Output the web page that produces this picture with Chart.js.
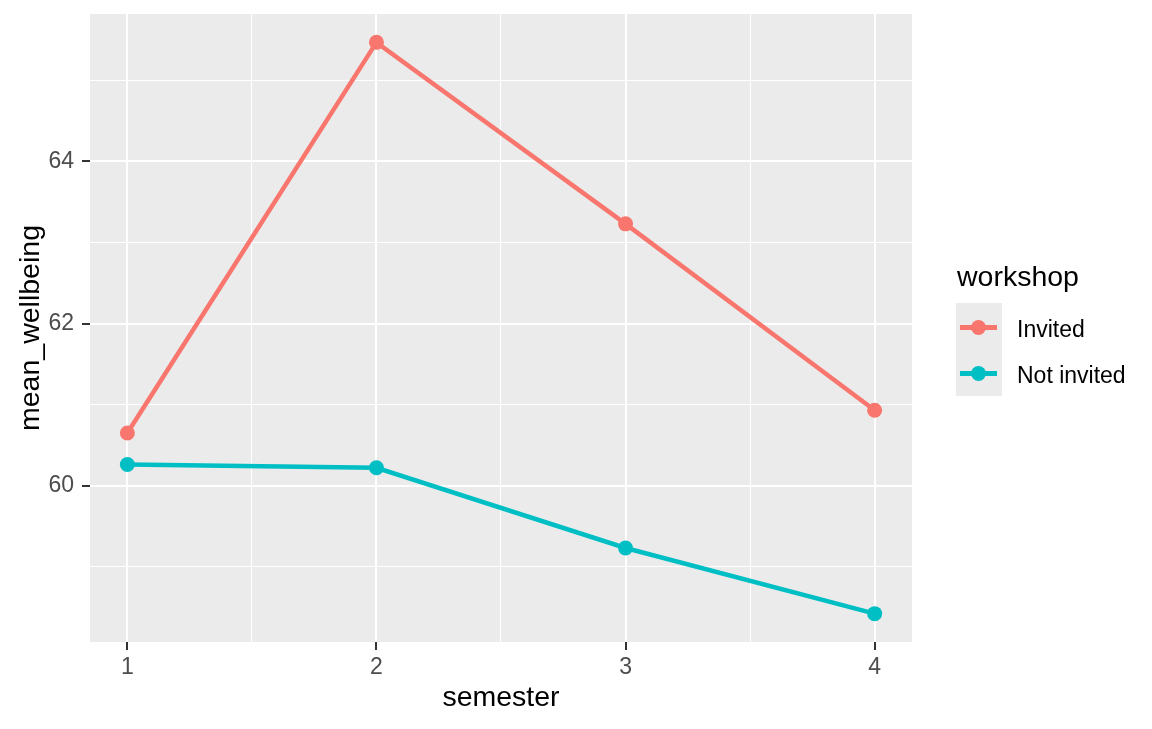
<!DOCTYPE html>
<html>
<head>
<meta charset="utf-8">
<script src="https://cdn.jsdelivr.net/npm/chart.js@4"></script>
<style>
  html, body { margin: 0; padding: 0; background: #fff; }
  #wrap { position: relative; width: 1152px; height: 729px; font-family: "Liberation Sans", Arial, sans-serif; }
  #myChart { position: absolute; left: 0; top: 0; }
  .lg { position: absolute; white-space: nowrap; }
</style>
</head>
<body>
<div id="wrap">
  <canvas id="myChart" width="1152" height="729"></canvas>
  <!-- legend, laid out like the ggplot guide -->
  <div class="lg" style="left:957px; top:262px; font-size:28.5px; line-height:28.5px; color:#000;">workshop</div>
  <div class="lg" style="left:956px; top:303px; width:46px; height:93px; background:#EBEBEB;"></div>
  <div id="key0"></div>
  <div id="key1"></div>
</div>
<script>
const semesters = [1, 2, 3, 4];
const invited = [60.65, 65.47, 63.23, 60.93];
const notInvited = [60.26, 60.22, 59.23, 58.42];
const groups = ['Invited', 'Not invited'];
const colors = ['#F8766D', '#00BFC4'];

const xTicks = [1, 1.5, 2, 2.5, 3, 3.5, 4];
const yTicks = [59, 60, 61, 62, 63, 64, 65];

// legend keys (line + point + label)
groups.forEach((g, i) => {
  const el = document.getElementById('key' + i);
  const cy = 327 + i * 46;
  el.innerHTML =
    `<div class="lg" style="left:960px; top:${cy - 2}px; width:37px; height:5px; background:${colors[i]};"></div>` +
    `<div class="lg" style="left:971px; top:${cy - 7}px; width:15px; height:15px; border-radius:50%; background:${colors[i]};"></div>` +
    `<div class="lg" style="left:1017px; top:${cy - 9}px; font-size:23px; line-height:23px; color:#000;">${g}</div>`;
});

const panelBg = {
  id: 'panelBg',
  beforeDraw(chart) {
    const { ctx, chartArea: a } = chart;
    ctx.save();
    ctx.fillStyle = '#EBEBEB';
    ctx.fillRect(a.left, a.top, a.right - a.left, a.bottom - a.top);
    ctx.restore();
  },
};

const isMajorX = (v) => v % 1 === 0;
const isMajorY = (v) => v % 2 === 0;

const data = {
  datasets: [
    {
      label: groups[0],
      data: semesters.map((s, i) => ({ x: s, y: invited[i] })),
      borderColor: colors[0],
      backgroundColor: colors[0],
      borderWidth: 4.5,
      pointRadius: 7.5,
      pointBorderWidth: 0,
      order: 1,
    },
    {
      label: groups[1],
      data: semesters.map((s, i) => ({ x: s, y: notInvited[i] })),
      borderColor: colors[1],
      backgroundColor: colors[1],
      borderWidth: 4.5,
      pointRadius: 7.5,
      pointBorderWidth: 0,
      order: 0,
    },
  ],
};

const config = {
  type: 'line',
  data,
  plugins: [panelBg],
  options: {
    responsive: false,
    devicePixelRatio: 1,
    animation: false,
    layout: { padding: { top: 14, right: 240, left: 0, bottom: 0 } },
    plugins: {
      legend: { display: false },
      tooltip: { enabled: false },
    },
    scales: {
      x: {
        type: 'linear',
        min: 0.85,
        max: 4.15,
        afterBuildTicks: (axis) => { axis.ticks = xTicks.map((v) => ({ value: v })); },
        afterFit: (axis) => {
          axis.height = 87;
          axis.paddingLeft = 0;
          axis.paddingRight = 0;
        },
        border: { display: false },
        grid: {
          color: '#FFFFFF',
          lineWidth: (c) => (isMajorX(c.tick.value) ? 2 : 1),
          tickColor: (c) => (isMajorX(c.tick.value) ? '#333333' : 'rgba(0,0,0,0)'),
          tickWidth: 2,
          tickLength: 8,
        },
        ticks: {
          autoSkip: false,
          maxRotation: 0,
          padding: 4,
          color: '#4D4D4D',
          font: { family: '"Liberation Sans", Arial', size: 23 },
          callback: (v) => (isMajorX(v) ? String(v) : ''),
        },
        title: {
          display: true,
          text: 'semester',
          color: '#000',
          font: { family: '"Liberation Sans", Arial', size: 28.5, lineHeight: 1.2 },
          padding: { top: 0, bottom: 14 },
        },
      },
      y: {
        type: 'linear',
        min: 58.07,
        max: 65.82,
        afterBuildTicks: (axis) => { axis.ticks = yTicks.map((v) => ({ value: v })); },
        afterFit: (axis) => {
          axis.width = 90;
          axis.paddingTop = 0;
          axis.paddingBottom = 0;
        },
        border: { display: false },
        grid: {
          color: '#FFFFFF',
          lineWidth: (c) => (isMajorY(c.tick.value) ? 2 : 1),
          tickColor: (c) => (isMajorY(c.tick.value) ? '#333333' : 'rgba(0,0,0,0)'),
          tickWidth: 2,
          tickLength: 8,
        },
        ticks: {
          autoSkip: false,
          padding: 8,
          color: '#4D4D4D',
          font: { family: '"Liberation Sans", Arial', size: 23 },
          callback: (v) => (isMajorY(v) ? String(v) : ''),
        },
        title: {
          display: true,
          text: 'mean_wellbeing',
          color: '#000',
          font: { family: '"Liberation Sans", Arial', size: 28.5, lineHeight: 1.2 },
          padding: { top: 14, bottom: 0 },
        },
      },
    },
  },
};

new Chart(document.getElementById('myChart'), config);
</script>
</body>
</html>
